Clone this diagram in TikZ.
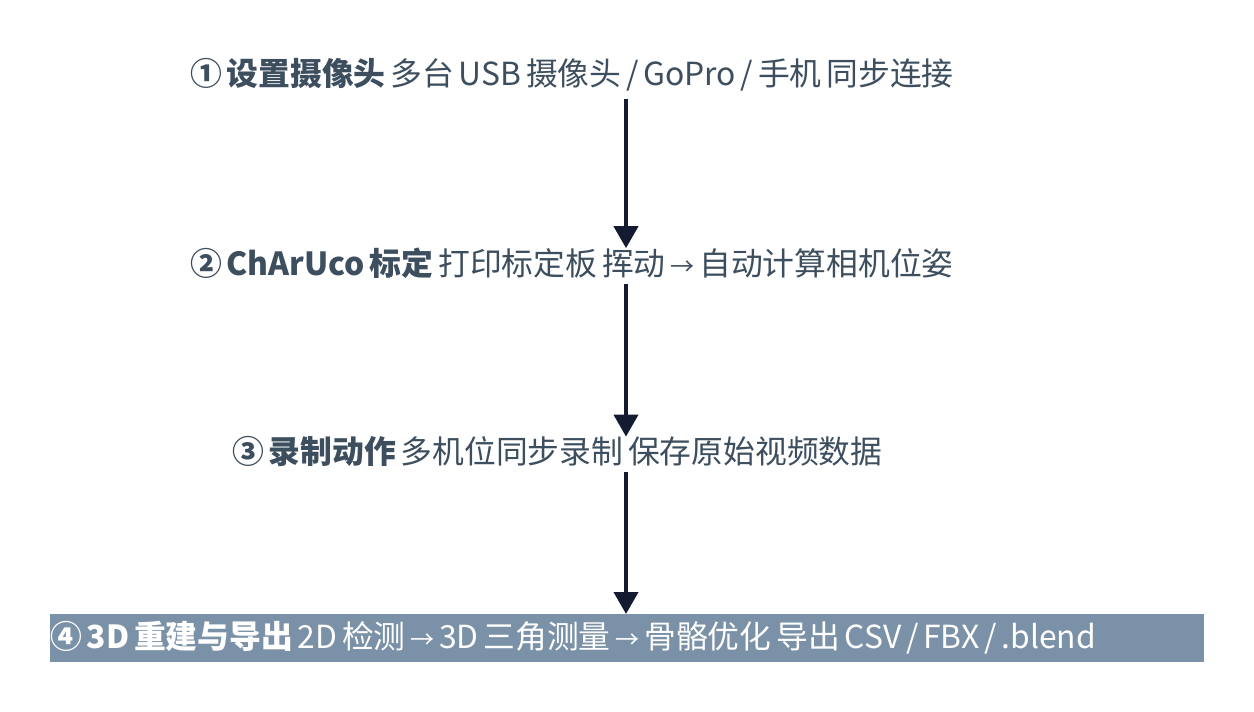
\documentclass[tikz,border=0pt]{standalone}
\usepackage{fontspec}
\setmainfont{Noto Sans CJK SC}
\usetikzlibrary{arrows.meta}
\definecolor{txt}{HTML}{3D4E5E}
\definecolor{band}{HTML}{7A91A7}
\definecolor{arrowc}{HTML}{141A30}
\newcommand{\stepfont}{\fontsize{31.8}{38}\selectfont\spaceskip=0.15em plus 0.05em minus 0.05em\relax}
\newcommand{\sarr}{{\fontsize{24}{24}\selectfont →}}
\tikzset{
  steptext/.style={anchor=base west, inner sep=0pt, text=txt, font=\stepfont},
  flow/.style={draw=arrowc, line width=4pt, -{Triangle[width=24pt,length=22pt]}},
}
\begin{document}
\begin{tikzpicture}[x=1pt,y=-1pt]
\useasboundingbox (0,0) rectangle (1254,712);
\fill[white] (0,0) rectangle (1254,712);
\coordinate (ax) at (626,0);
\node[steptext] (n1) at (190,85) {\textbf{① 设置摄像头} 多台 USB 摄像头 / GoPro / 手机 同步连接};
\node[steptext] (n2) at (190,275) {\textbf{② ChArUco 标定} 打印标定板 挥动 \sarr{} 自动计算相机位姿};
\node[steptext] (n3) at (232,463) {\textbf{③ 录制动作} 多机位同步录制 保存原始视频数据};
\node[anchor=north west, fill=band, text=white, inner sep=0pt, minimum height=48pt,
      font=\stepfont] (n4) at (50,614)
      {\makebox[1154pt][l]{\textbf{④ 3D 重建与导出} 2D 检测 \sarr{} 3D 三角测量 \sarr{} 骨骼优化 导出 CSV / FBX / .blend}};
\draw[flow] ([yshift=-8pt]n1.south -| ax) -- ([yshift=-1pt]n2.north -| ax);
\draw[flow] ([yshift=-6pt]n2.south -| ax) -- ([yshift=-1pt]n3.north -| ax);
\draw[flow] ([yshift=-6pt]n3.south -| ax) -- (n4.north -| ax);
\end{tikzpicture}
\end{document}
